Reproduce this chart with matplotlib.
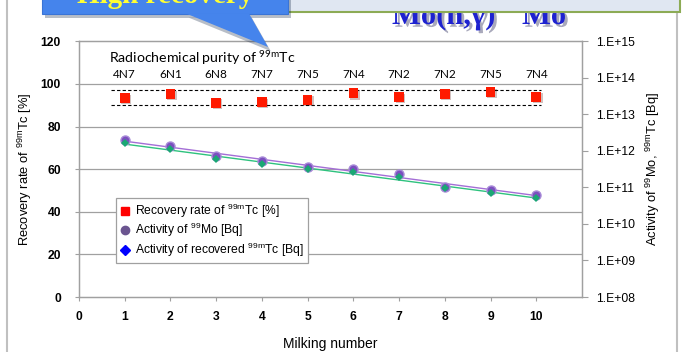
import numpy as np
import matplotlib
matplotlib.use("Agg")
import matplotlib.pyplot as plt
from matplotlib.lines import Line2D
from matplotlib.patches import Rectangle, Polygon
import matplotlib.patheffects as pe

plt.rcParams['font.family'] = ['Liberation Sans', 'DejaVu Sans']
plt.rcParams['mathtext.default'] = 'regular'

# ---- data ----
milking = [1, 2, 3, 4, 5, 6, 7, 8, 9, 10]
recovery_rate = [93.3, 95.2, 91.2, 91.5, 92.5, 95.6, 93.8, 95.2, 96.1, 94.0]
mo_activity = [2.0e12, 1.35e12, 7.2e11, 5.4e11, 3.7e11, 3.2e11, 2.35e11, 1.05e11, 8.5e10, 6.2e10]
tc_activity = [1.66e12, 1.15e12, 5.9e11, 4.4e11, 3.2e11, 2.7e11, 1.95e11, 9.5e10, 7.2e10, 5.2e10]
purity_labels = ["4N7", "6N1", "6N8", "7N7", "7N5", "7N4", "7N2", "7N2", "7N5", "7N4"]
purity_band = [97, 90]
x_ticks = list(range(0, 11))
left_ticks = [0, 20, 40, 60, 80, 100, 120]
right_ticks = [1e8, 1e9, 1e10, 1e11, 1e12, 1e13, 1e14, 1e15]
right_ticklabels = ["1.E+08", "1.E+09", "1.E+10", "1.E+11", "1.E+12", "1.E+13", "1.E+14", "1.E+15"]

W, H = 687, 352
fig = plt.figure(figsize=(W / 100, H / 100), dpi=100)
ax = fig.add_axes([79 / W, 1 - 297 / H, (582 - 79) / W, (297 - 41.3) / H])
ax2 = ax.twinx()

gray = '#a0a0a0'
# left axis
ax.set_xlim(0, 11)
ax.set_ylim(0, 120)
ax.set_yticks(left_ticks)
ax.set_xticks(x_ticks)
ax.set_yticklabels([str(v) for v in left_ticks], fontweight='bold', fontsize=8.7)
ax.set_xticklabels([str(v) for v in x_ticks], fontweight='bold', fontsize=8.7)
for yv in left_ticks[1:-1]:
    ax.axhline(yv, color=gray, lw=0.9, zorder=0)
for s in ax.spines.values():
    s.set_color(gray)
    s.set_linewidth(0.9)
ax.tick_params(axis='both', colors=gray, labelcolor='black', length=3, width=0.8)
ax.tick_params(axis='y', pad=10)
ax.tick_params(axis='x', pad=7)
ax.set_xlabel("Milking number", fontsize=10, labelpad=10)
ax.set_ylabel(r"Recovery rate of $^{99m}$Tc [%]", fontsize=9.3, labelpad=5)

# right axis
ax2.set_yscale('log')
ax2.set_ylim(1e8, 1e15)
ax2.set_yticks(right_ticks)
ax2.set_yticklabels(right_ticklabels, fontsize=8.7)
ax2.minorticks_off()
ax2.tick_params(axis='y', colors=gray, labelcolor='black', length=4, width=0.8, pad=6)
for s in ax2.spines.values():
    s.set_color(gray)
    s.set_linewidth(0.9)
ax2.set_ylabel(r"Activity of $^{99}$Mo, $^{99m}$Tc [Bq]", fontsize=9.3, labelpad=6)

# purity band and labels
ax.hlines(purity_band, 0.7, 10.1, colors='black', linestyles=(0, (3, 2)), lw=0.8, zorder=2)
for xv, lab in zip(milking, purity_labels):
    ax.text(xv, 104.3, lab, ha='center', va='center', fontsize=8.5, family=['Lato', 'DejaVu Sans'])
ax.text(0.66, 112, r"Radiochemical purity of $^{99m}$Tc", ha='left', va='center', fontsize=10.2,
        family=['Lato', 'DejaVu Sans'])

# recovery squares
ax.plot(milking, recovery_rate, 's', color='#ff1a00', markersize=7, markeredgewidth=0,
        zorder=5, path_effects=[pe.SimplePatchShadow(offset=(1, -1), alpha=0.25), pe.Normal()])

# activity series + exponential trend lines
xs = np.array(milking, dtype=float)
for vals, lc in ((mo_activity, '#a46ed6'), (tc_activity, '#2ec27e')):
    c = np.polyfit(xs, np.log10(vals), 1)
    ax2.plot(xs, 10 ** np.polyval(c, xs), color=lc, lw=1.0, zorder=3)
ax2.plot(milking, mo_activity, 'o', color='#7b4fbf', markeredgecolor='#a88ad8', markeredgewidth=1,
         markersize=6.5, zorder=4)
ax2.plot(milking, tc_activity, 'D', color='#1aa874', markeredgewidth=0, markersize=4.5, zorder=5)

# legend
handles = [
    Line2D([], [], ls='none', marker='s', color='#ff0000', markersize=6),
    Line2D([], [], ls='none', marker='o', color='#6b5590', markersize=6),
    Line2D([], [], ls='none', marker='D', color='#0000ff', markersize=5),
]
labels = [r"Recovery rate of $^{99m}$Tc [%]", r"Activity of $^{99}$Mo [Bq]",
          r"Activity of recovered $^{99m}$Tc [Bq]"]
leg = ax2.legend(handles, labels, loc='lower left', bbox_to_anchor=(0.074, 0.133), borderaxespad=0,
                 fontsize=8.7, frameon=True, fancybox=False, edgecolor=gray, framealpha=1,
                 handlelength=0.8, handletextpad=0.4, labelspacing=0.1, borderpad=0.35)
leg.get_frame().set_linewidth(0.9)
leg.set_zorder(10)

# figure frame lines
fig.add_artist(Line2D([7 / W, 7 / W], [0, 1], color='#c0c0c0', lw=1.5, transform=fig.transFigure))
fig.add_artist(Line2D([677 / W, 677 / W], [0, 1], color='#c0c0c0', lw=1.5, transform=fig.transFigure))

# top overlays (cropped callouts)
def fx(px):
    return px / W

def fy(py):
    return 1 - py / H

shadow = [pe.withSimplePatchShadow(offset=(2, -2), alpha=0.35)]
fig.text(fx(392), fy(24), "Mo(n,γ)", fontsize=22, fontweight='bold', color='#1e22d0',
         family=['Liberation Serif', 'DejaVu Serif'], va='baseline', ha='left', zorder=20,
         path_effects=shadow)
fig.text(fx(522), fy(24), "Mo", fontsize=22, fontweight='bold', color='#1e22d0',
         family=['Liberation Serif', 'DejaVu Serif'], va='baseline', ha='left', zorder=20,
         path_effects=shadow)
box2 = Rectangle((fx(288), fy(12)), fx(680) - fx(288), fy(-5) - fy(12), transform=fig.transFigure,
                 facecolor='#e0e7f2', edgecolor='#8cab55', lw=1.5, zorder=21)
fig.add_artist(box2)

box1 = Rectangle((fx(42), fy(14)), fx(288) - fx(42), fy(-5) - fy(14), transform=fig.transFigure,
                 facecolor='#4584ec', edgecolor='#3a74d6', lw=0.8, zorder=22,
                 path_effects=[pe.withSimplePatchShadow(offset=(2, -3), alpha=0.3)])
fig.add_artist(box1)
tri = Polygon([(fx(186), fy(13.5)), (fx(249), fy(13.5)), (fx(268), fy(47))], closed=True,
              transform=fig.transFigure, facecolor='#4584ec', edgecolor='none', zorder=22,
              path_effects=[pe.withSimplePatchShadow(offset=(2, -3), alpha=0.3)])
fig.add_artist(tri)
fig.text(fx(165), fy(3), "High recovery", fontsize=21, fontweight='bold', color='#ffff33',
         family=['Liberation Serif', 'DejaVu Serif'], va='baseline', ha='center', zorder=23)

fig.savefig("out.png", dpi=100)
